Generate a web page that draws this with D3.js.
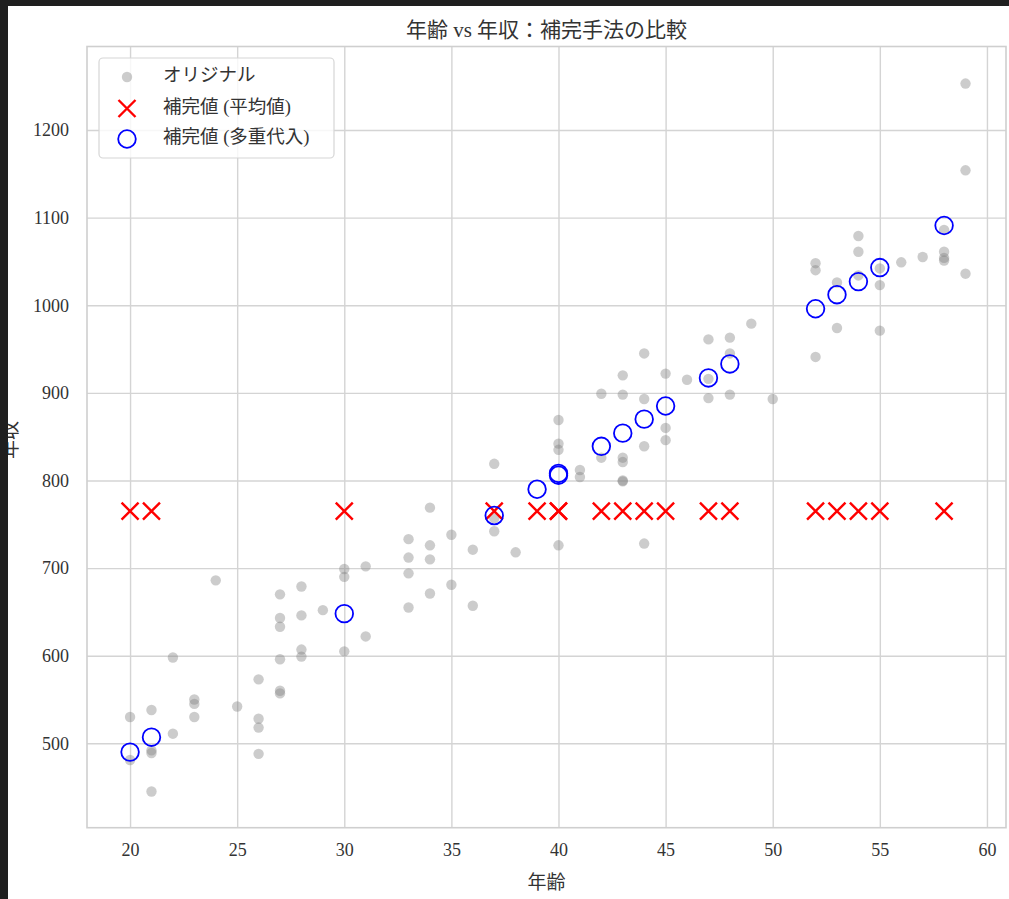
<!DOCTYPE html>
<html>
<head>
<meta charset="utf-8">
<script src="https://cdn.jsdelivr.net/npm/d3@7/dist/d3.min.js"></script>
<style>
  body { margin: 0; background: #fff; }
  svg { display: block; }
  text { fill: #333; }
</style>
</head>
<body>
<svg id="chart" width="1009" height="899"></svg>
<script>
// ── Data ────────────────────────────────────────────────────────────────
// original (non-missing) observations
const origAge = [
  20,20, 21,21,21,21, 22,22, 23,23,23, 24, 25, 26,26,26,26,
  27,27,27,27,27,27, 28,28,28,28, 29, 30,30,30, 31,31,
  33,33,33,33, 34,34,34,34, 35,35, 36,36, 37,37,37, 38,
  40,40,40,40, 41,41, 42,42, 43,43,43,43,43,43, 44,44,44,44,
  45,45,45, 46, 47,47,47, 48,48,48, 49, 50, 52,52,52, 53,53,
  54,54,54, 55,55,55, 56, 57, 58,58,58,58, 59,59,59
];
const origIncome = [
  530,481, 538,492,489,445, 598,511, 550,545,530, 686, 542, 573,528,518,488,
  670,643,633,596,560,557, 679,646,607,599, 652, 699,690,605, 702,622,
  733,712,694,655, 769,726,710,671, 738,681, 721,657, 819,757,742, 718,
  869,842,835,726, 812,804, 899,826, 920,898,826,821,800,799, 945,893,839,728,
  922,860,846, 915, 961,916,894, 963,945,898, 979, 893, 1048,1040,941, 1026,974,
  1079,1061,1034, 1042,1023,971, 1049, 1055, 1086,1061,1054,1051, 1253,1154,1036
];
// rows whose income was missing
const missAge = [20, 21, 30, 37, 39, 40, 40, 42, 43, 44, 45, 47, 48, 52, 53, 54, 55, 58];
const meanValue = 765;
const multiIncome = [490, 507, 648, 760, 790, 806, 808, 839, 854, 870, 885, 917, 933, 996, 1012, 1027, 1043, 1091];

const xTicks = [20, 25, 30, 35, 40, 45, 50, 55, 60];
const yTicks = [500, 600, 700, 800, 900, 1000, 1100, 1200];

const legendLabels = ['オリジナル', '補完値 (平均値)', '補完値 (多重代入)'];

// ── Layout ──────────────────────────────────────────────────────────────
const FONT = '"Liberation Serif", "Noto Sans CJK JP", serif';
const box = { left: 87, right: 1006, top: 46.5, bottom: 827.7 };

const svg = d3.select('#chart');
svg.append('rect').attr('width', 1009).attr('height', 899).attr('fill', '#fff');

const x = d3.scaleLinear().domain([17.99, 60.89]).range([box.left, box.right]);
const y = d3.scaleLinear().domain([403.7, 1295.3]).range([box.bottom, box.top]);

// grid + tick labels
const gx = svg.append('g').attr('transform', `translate(0,${box.bottom})`)
  .call(d3.axisBottom(x).tickValues(xTicks).tickFormat(d3.format('d'))
    .tickSize(-(box.bottom - box.top)).tickPadding(16));
const gy = svg.append('g').attr('transform', `translate(${box.left},0)`)
  .call(d3.axisLeft(y).tickValues(yTicks).tickFormat(d3.format('d'))
    .tickSize(-(box.right - box.left)).tickPadding(18));
[gx, gy].forEach(g => {
  g.select('.domain').remove();
  g.selectAll('.tick line').attr('stroke', '#d4d4d4').attr('stroke-width', 1.4);
  g.selectAll('.tick text').attr('font-family', FONT).attr('font-size', 18).attr('fill', '#333');
});

// frame
svg.append('rect')
  .attr('x', box.left).attr('y', box.top)
  .attr('width', box.right - box.left).attr('height', box.bottom - box.top)
  .attr('fill', 'none').attr('stroke', '#cfcfcf').attr('stroke-width', 1.6);

// ── Marks ───────────────────────────────────────────────────────────────
const orig = origAge.map((a, i) => ({ a, v: origIncome[i] }));
svg.append('g').selectAll('circle').data(orig).join('circle')
  .attr('cx', d => x(d.a)).attr('cy', d => y(d.v)).attr('r', 5.2)
  .attr('fill', 'gray').attr('fill-opacity', 0.4);

const xPath = s => `M${-s},${-s}L${s},${s}M${-s},${s}L${s},${-s}`;
svg.append('g').selectAll('path').data(missAge).join('path')
  .attr('transform', d => `translate(${x(d)},${y(meanValue)})`)
  .attr('d', xPath(8.5))
  .attr('stroke', 'red').attr('stroke-width', 2.4).attr('fill', 'none');

const multi = missAge.map((a, i) => ({ a, v: multiIncome[i] }));
svg.append('g').selectAll('circle').data(multi).join('circle')
  .attr('cx', d => x(d.a)).attr('cy', d => y(d.v)).attr('r', 8.8)
  .attr('fill', 'none').attr('stroke', 'blue').attr('stroke-width', 1.8);

// ── Legend ──────────────────────────────────────────────────────────────
const lg = svg.append('g');
lg.append('rect').attr('x', 99).attr('y', 58).attr('width', 235).attr('height', 100)
  .attr('rx', 4).attr('fill', '#fff').attr('fill-opacity', 0.8)
  .attr('stroke', '#d6d6d6').attr('stroke-width', 1.2);
const rowsY = [77, 108.5, 139];
lg.append('circle').attr('cx', 127).attr('cy', rowsY[0]).attr('r', 5.2)
  .attr('fill', 'gray').attr('fill-opacity', 0.4);
lg.append('path').attr('transform', `translate(127,${rowsY[1]})`).attr('d', xPath(8.5))
  .attr('stroke', 'red').attr('stroke-width', 2.4);
lg.append('circle').attr('cx', 127).attr('cy', rowsY[2]).attr('r', 8.8)
  .attr('fill', 'none').attr('stroke', 'blue').attr('stroke-width', 1.8);
lg.selectAll('text').data(legendLabels).join('text')
  .attr('x', 163).attr('y', (d, i) => rowsY[i] - 2)
  .attr('dominant-baseline', 'central')
  .attr('font-family', FONT).attr('font-size', 18.5).attr('fill', '#333')
  .text(d => d);

// ── Titles ──────────────────────────────────────────────────────────────
svg.append('text').attr('x', (box.left + box.right) / 2).attr('y', 30)
  .attr('text-anchor', 'middle').attr('dominant-baseline', 'central')
  .attr('font-family', FONT).attr('font-size', 21).attr('fill', '#333')
  .text('年齢 vs 年収：補完手法の比較');
svg.append('text').attr('x', (box.left + box.right) / 2).attr('y', 882)
  .attr('text-anchor', 'middle').attr('dominant-baseline', 'central')
  .attr('font-family', FONT).attr('font-size', 19).attr('fill', '#333')
  .text('年齢');
svg.append('text').attr('transform', 'translate(10,440) rotate(-90)')
  .attr('text-anchor', 'middle').attr('dominant-baseline', 'central')
  .attr('font-family', FONT).attr('font-size', 19).attr('fill', '#333')
  .text('年収');

// screenshot frame (dark edges)
svg.append('rect').attr('x', 0).attr('y', 0).attr('width', 8).attr('height', 899).attr('fill', '#1f1f1f');
svg.append('rect').attr('x', 0).attr('y', 0).attr('width', 1009).attr('height', 6).attr('fill', '#1f1f1f');
</script>
</body>
</html>
